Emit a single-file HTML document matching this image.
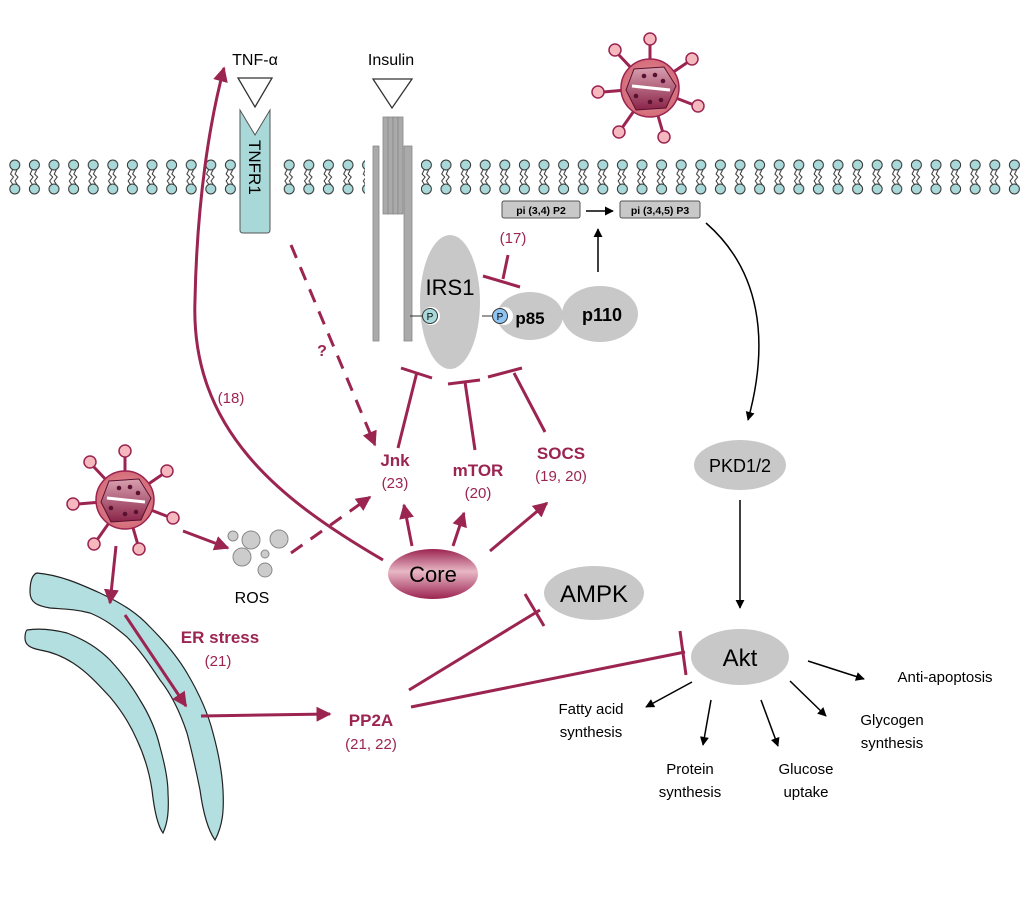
<!DOCTYPE html>
<html><head><meta charset="utf-8"><style>body{margin:0;background:#fff}svg{display:block}</style></head><body>
<svg width="1024" height="924" viewBox="0 0 1024 924" xmlns="http://www.w3.org/2000/svg" font-family="Liberation Sans, Arial, sans-serif">
<defs>
<pattern id="lip" x="5" y="155" width="19.6" height="44" patternUnits="userSpaceOnUse">
<path d="M7.5 15 l-2 4 l3 3 l-3 4 l2 3 M12 15 l-2 4 l3 3 l-3 4 l2 3" stroke="#333" stroke-width="1" fill="none"/>
<circle cx="9.8" cy="10" r="5" fill="#a9d8d8" stroke="#333" stroke-width="1"/>
<circle cx="9.8" cy="34" r="5" fill="#a9d8d8" stroke="#333" stroke-width="1"/>
</pattern>
<marker id="ar" viewBox="0 0 10 10" refX="9" refY="5" markerWidth="5" markerHeight="5" orient="auto"><path d="M0 0L10 5L0 10z" fill="#9b2451"/></marker>
<marker id="ak" viewBox="0 0 10 10" refX="9" refY="5" markerWidth="6" markerHeight="6" orient="auto"><path d="M0 0L10 5L0 10z" fill="#000"/></marker>
<radialGradient id="vg" cx="0.5" cy="0.5" r="0.5"><stop offset="0" stop-color="#e89aa4"/><stop offset="1" stop-color="#d46b78"/></radialGradient>
<linearGradient id="cg" x1="0" y1="0" x2="0" y2="1"><stop offset="0" stop-color="#9b2451"/><stop offset="0.45" stop-color="#e8b8c6"/><stop offset="1" stop-color="#9b2451"/></linearGradient>
<linearGradient id="ig" x1="0" y1="0" x2="0" y2="1"><stop offset="0" stop-color="#d8a0b0"/><stop offset="1" stop-color="#8a2448"/></linearGradient>
<g id="virus">
<g stroke="#9b2451" stroke-width="3">
<line x1="0" y1="0" x2="0" y2="-45"/><line x1="0" y1="0" x2="38" y2="-26"/><line x1="0" y1="0" x2="44" y2="17"/><line x1="0" y1="0" x2="13" y2="45"/><line x1="0" y1="0" x2="-28" y2="40"/><line x1="0" y1="0" x2="-47" y2="4"/><line x1="0" y1="0" x2="-32" y2="-34"/>
</g>
<g fill="#f4b8be" stroke="#9b2451" stroke-width="1.5">
<circle cx="0" cy="-49" r="6"/><circle cx="42" cy="-29" r="6"/><circle cx="48" cy="18" r="6"/><circle cx="14" cy="49" r="6"/><circle cx="-31" cy="44" r="6"/><circle cx="-52" cy="4" r="6"/><circle cx="-35" cy="-38" r="6"/>
</g>
<circle r="29" fill="url(#vg)" stroke="#9b2451" stroke-width="1.5"/>
<path d="M-16 -19 L14 -21 L26 -2 L16 20 L-14 22 L-24 2 Z" fill="url(#ig)" stroke="#5a1030" stroke-width="1"/>
<path d="M-18 -2 L20 2" stroke="#fff" stroke-width="3"/>
<g fill="#5a1030"><circle cx="-6" cy="-12" r="2.3"/><circle cx="5" cy="-13" r="2.3"/><circle cx="13" cy="-7" r="2.3"/><circle cx="-14" cy="8" r="2.3"/><circle cx="0" cy="14" r="2.3"/><circle cx="11" cy="12" r="2.3"/></g>
</g>
</defs>

<!-- membrane -->
<rect x="5" y="155" width="235" height="44" fill="url(#lip)"/>
<rect x="275" y="155" width="90" height="44" fill="url(#lip)"/>
<rect x="421" y="155" width="600" height="44" fill="url(#lip)"/>

<!-- ligands -->
<text x="255" y="65" font-size="16" text-anchor="middle">TNF-α</text>
<path d="M238 78 L272 78 L255 107 Z" fill="#fff" stroke="#333" stroke-width="1.3"/>
<text x="391" y="65" font-size="16" text-anchor="middle">Insulin</text>
<path d="M373 79 L412 79 L392 108 Z" fill="#fff" stroke="#333" stroke-width="1.3"/>

<!-- TNFR1 -->
<path d="M240 110 L255 135 L270 110 L270 230 Q270 233 267 233 L243 233 Q240 233 240 230 Z" fill="#a9d8d8" stroke="#555" stroke-width="1"/>
<text transform="translate(249,140) rotate(90)" font-size="17">TNFR1</text>

<!-- insulin receptor -->
<g fill="#aaa" stroke="#888" stroke-width="0.8">
<rect x="373" y="146" width="6" height="195"/><rect x="404" y="146" width="8" height="195"/>
<rect x="383" y="117" width="5" height="97"/><rect x="388" y="117" width="5" height="97"/><rect x="393" y="117" width="5" height="97"/><rect x="398" y="117" width="5" height="97"/>
</g>

<!-- PIP boxes -->
<rect x="502" y="201" width="78" height="17" rx="2" fill="#c8c8c8" stroke="#555"/>
<text x="541" y="214" font-size="10.5" font-weight="bold" text-anchor="middle">pi (3,4) P2</text>
<rect x="620" y="201" width="80" height="17" rx="2" fill="#c8c8c8" stroke="#555"/>
<text x="660" y="214" font-size="10.5" font-weight="bold" text-anchor="middle">pi (3,4,5) P3</text>
<line x1="586" y1="211" x2="613" y2="211" stroke="#000" stroke-width="1.5" marker-end="url(#ak)"/>
<line x1="598" y1="272" x2="598" y2="229" stroke="#000" stroke-width="1.5" marker-end="url(#ak)"/>

<!-- IRS1 complex -->
<ellipse cx="450" cy="302" rx="30" ry="67" fill="#c8c8c8"/>
<text x="450" y="295" font-size="22" text-anchor="middle">IRS1</text>
<ellipse cx="530" cy="316" rx="33" ry="24" fill="#c8c8c8"/>
<ellipse cx="600" cy="314" rx="38" ry="28" fill="#c8c8c8"/>
<text x="530" y="324" font-size="17" font-weight="bold" text-anchor="middle">p85</text>
<text x="602" y="321" font-size="18" font-weight="bold" text-anchor="middle">p110</text>
<line x1="410" y1="316" x2="422" y2="316" stroke="#333"/><line x1="482" y1="316" x2="493" y2="316" stroke="#333"/>
<circle cx="431" cy="316" r="9" fill="#fff"/><circle cx="430" cy="316" r="7.5" fill="#a9d8d8" stroke="#333"/>
<text x="430" y="320" font-size="10" text-anchor="middle">P</text>
<circle cx="504" cy="316" r="9" fill="#fff"/><circle cx="500" cy="316" r="7.5" fill="#8fc3f0" stroke="#333"/>
<text x="500" y="320" font-size="10" text-anchor="middle">P</text>
<text x="513" y="243" font-size="15" fill="#9b2451" text-anchor="middle">(17)</text>
<g stroke="#9b2451" stroke-width="3" fill="none">
<line x1="508" y1="255" x2="503" y2="279"/><line x1="483" y1="276" x2="520" y2="287"/>
</g>

<!-- virus top -->
<use href="#virus" x="650" y="88"/>

<!-- right pathway -->
<path d="M706 223 C760 270 770 340 748 420" stroke="#000" stroke-width="1.5" fill="none" marker-end="url(#ak)"/>
<ellipse cx="740" cy="465" rx="46" ry="25" fill="#c8c8c8"/>
<text x="740" y="472" font-size="18" text-anchor="middle">PKD1/2</text>
<line x1="740" y1="500" x2="740" y2="608" stroke="#000" stroke-width="1.5" marker-end="url(#ak)"/>
<ellipse cx="740" cy="657" rx="49" ry="28" fill="#c8c8c8"/>
<text x="740" y="666" font-size="24" text-anchor="middle">Akt</text>
<ellipse cx="594" cy="593" rx="50" ry="27" fill="#c8c8c8"/>
<text x="594" y="602" font-size="24" text-anchor="middle">AMPK</text>

<!-- Akt outputs -->
<g stroke="#000" stroke-width="1.5" marker-end="url(#ak)">
<line x1="692" y1="682" x2="646" y2="707"/>
<line x1="711" y1="700" x2="703" y2="745"/>
<line x1="761" y1="700" x2="778" y2="746"/>
<line x1="790" y1="681" x2="826" y2="716"/>
<line x1="808" y1="661" x2="864" y2="679"/>
</g>
<g font-size="15" text-anchor="middle">
<text x="591" y="714">Fatty acid</text><text x="591" y="737">synthesis</text>
<text x="690" y="774">Protein</text><text x="690" y="797">synthesis</text>
<text x="806" y="774">Glucose</text><text x="806" y="797">uptake</text>
<text x="892" y="725">Glycogen</text><text x="892" y="748">synthesis</text>
<text x="945" y="682">Anti-apoptosis</text>
</g>

<!-- ER -->
<path d="M37 573 C60 575 80 584 100 593 C125 605 138 614 150 627 C165 642 177 656 187 673 C200 695 208 713 213 733 C219 755 222 772 223 790 C224 810 223 825 215 840 C208 830 203 812 200 790 C196 770 192 752 187 733 C180 712 172 695 160 680 C150 665 140 650 127 637 C115 627 105 619 90 613 C75 609 62 609 50 608 C38 606 30 603 30 592 C30 580 33 574 37 573 Z" fill="#b3dfe1" stroke="#222" stroke-width="1.2"/>
<path d="M27 630 C40 628 55 630 67 633 C85 640 98 648 110 660 C122 673 132 686 140 700 C150 716 156 730 160 747 C165 765 168 780 168 793 C169 810 168 822 163 833 C157 825 154 808 152 790 C149 770 144 755 137 740 C130 724 121 710 110 697 C98 684 87 672 73 663 C62 656 52 652 40 650 C30 648 25 645 25 638 C25 633 26 631 27 630 Z" fill="#b3dfe1" stroke="#222" stroke-width="1.2"/>

<!-- virus left -->
<use href="#virus" x="125" y="500"/>

<!-- ROS -->
<g fill="#ccc" stroke="#888" stroke-width="1">
<circle cx="233" cy="536" r="5"/><circle cx="251" cy="540" r="9"/><circle cx="279" cy="539" r="9"/><circle cx="242" cy="557" r="9"/><circle cx="265" cy="554" r="4"/><circle cx="265" cy="570" r="7"/>
</g>
<text x="252" y="603" font-size="16" text-anchor="middle">ROS</text>

<!-- crimson connectors -->
<g stroke="#9b2451" stroke-width="3" fill="none">
<line x1="183" y1="531" x2="228" y2="548" marker-end="url(#ar)"/>
<line x1="116" y1="546" x2="110" y2="603" marker-end="url(#ar)"/>
<line x1="125" y1="615" x2="186" y2="706" marker-end="url(#ar)"/>
<line x1="201" y1="716" x2="330" y2="714" marker-end="url(#ar)"/>
<path d="M291 553 L370 497" stroke-dasharray="14 10" marker-end="url(#ar)"/>
<path d="M291 245 L375 445" stroke-dasharray="14 10" marker-end="url(#ar)"/>
<path d="M383 560 C280 500 190 430 195 300 C197 200 210 120 224 68" marker-end="url(#ar)"/>
<line x1="412" y1="546" x2="404" y2="505" marker-end="url(#ar)"/>
<line x1="453" y1="546" x2="464" y2="513" marker-end="url(#ar)"/>
<line x1="490" y1="551" x2="547" y2="503" marker-end="url(#ar)"/>
<line x1="398" y1="448" x2="417" y2="372"/><line x1="401" y1="368" x2="432" y2="378"/>
<line x1="475" y1="450" x2="465" y2="382"/><line x1="448" y1="384" x2="480" y2="380"/>
<line x1="545" y1="432" x2="514" y2="373"/><line x1="488" y1="377" x2="522" y2="368"/>
<line x1="409" y1="690" x2="540" y2="610"/><line x1="525" y1="594" x2="544" y2="626"/>
<line x1="411" y1="707" x2="685" y2="652"/><line x1="680" y1="631" x2="686" y2="675"/>
</g>

<!-- Core -->
<ellipse cx="433" cy="574" rx="45" ry="25" fill="url(#cg)"/>
<text x="433" y="582" font-size="22" text-anchor="middle">Core</text>

<!-- labels -->
<g fill="#9b2451" text-anchor="middle">
<text x="322" y="356" font-size="16" font-weight="bold">?</text>
<text x="231" y="403" font-size="15">(18)</text>
<text x="395" y="466" font-size="17" font-weight="bold">Jnk</text>
<text x="395" y="488" font-size="15">(23)</text>
<text x="478" y="476" font-size="17" font-weight="bold">mTOR</text>
<text x="478" y="498" font-size="15">(20)</text>
<text x="561" y="459" font-size="17" font-weight="bold">SOCS</text>
<text x="561" y="481" font-size="15">(19, 20)</text>
<text x="220" y="643" font-size="17" font-weight="bold">ER stress</text>
<text x="218" y="666" font-size="15">(21)</text>
<text x="371" y="726" font-size="17" font-weight="bold">PP2A</text>
<text x="371" y="749" font-size="15">(21, 22)</text>
</g>
</svg>
</body></html>
